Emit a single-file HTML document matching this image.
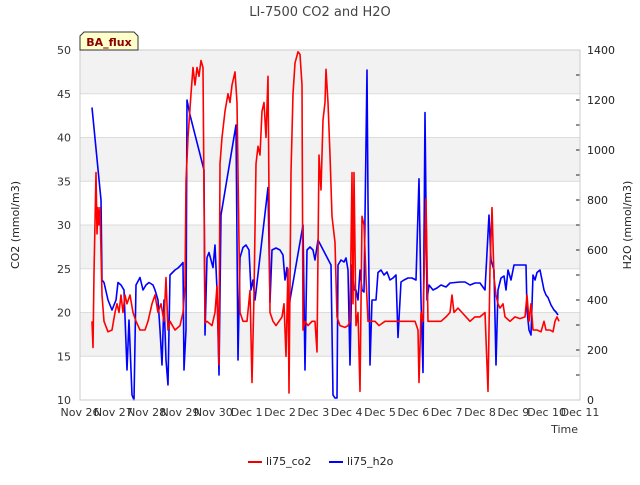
<!DOCTYPE html>
<html><head><meta charset="utf-8"><style>
body{margin:0;background:#fff;font-family:"Liberation Sans","DejaVu Sans",sans-serif;}
svg text{font-family:"DejaVu Sans","Liberation Sans",sans-serif;}
</style></head><body>
<svg id="chart" width="640" height="480" xmlns="http://www.w3.org/2000/svg">
<rect width="640" height="480" fill="#fff"/>
<g id="bands"></g><g id="grid"></g><g id="series"></g><g id="axes"></g>
<text x="320" y="16" text-anchor="middle" font-size="13" fill="#444">LI-7500 CO2 and H2O</text>
<text transform="translate(19,225) rotate(-90)" text-anchor="middle" font-size="11" fill="#222">CO2 (mmol/m3)</text>
<text transform="translate(631,225) rotate(-90)" text-anchor="middle" font-size="11" fill="#222">H2O (mmol/m3)</text>
<text x="578" y="433" text-anchor="end" font-size="11" fill="#333">Time</text>
<g>
<path d="M80,50 L80,36 L84,32 L134,32 L138,36 L138,50 Z" fill="#ffffcc" stroke="#333" stroke-width="1"/>
<text x="109" y="46" text-anchor="middle" font-size="11" font-weight="bold" fill="#8b0000">BA_flux</text></g>
<g>
<line x1="248" y1="462" x2="262" y2="462" stroke="#e00" stroke-width="2"/>
<text x="266" y="465" font-size="11" fill="#222">li75_co2</text>
<line x1="329" y1="462" x2="343" y2="462" stroke="#00f" stroke-width="2"/>
<text x="347" y="465" font-size="11" fill="#222">li75_h2o</text></g>
</svg>
<script>
const xTickLabels=["Nov 26","Nov 27","Nov 28","Nov 29","Nov 30","Dec 1","Dec 2","Dec 3","Dec 4","Dec 5","Dec 6","Dec 7","Dec 8","Dec 9","Dec 10","Dec 11"];
const leftTicks=[10,15,20,25,30,35,40,45,50];
const rightTicks=[0,200,400,600,800,1000,1200,1400];
const co2Days=[.36,.39,.42,.48,.51,.54,.57,.60,.66,.72,.84,.96,1.05,1.11,1.17,1.23,1.29,1.35,1.41,1.50,1.59,1.68,1.80,1.95,2.04,2.16,2.25,2.34,2.43,2.52,2.58,2.64,2.70,2.85,3.00,3.09,3.15,3.18,3.24,3.33,3.39,3.45,3.51,3.57,3.63,3.69,3.75,3.81,3.96,4.05,4.11,4.17,4.20,4.26,4.35,4.44,4.50,4.56,4.65,4.71,4.80,4.89,5.01,5.10,5.16,5.22,5.28,5.34,5.40,5.46,5.52,5.58,5.64,5.70,5.79,5.88,5.97,6.06,6.12,6.18,6.24,6.27,6.33,6.39,6.45,6.54,6.60,6.66,6.69,6.75,6.84,6.96,7.05,7.11,7.17,7.23,7.29,7.35,7.38,7.44,7.50,7.56,7.65,7.71,7.80,7.95,8.04,8.10,8.16,8.19,8.22,8.28,8.34,8.40,8.46,8.52,8.58,8.64,8.76,8.85,8.97,9.15,9.30,9.45,9.60,9.75,9.90,10.05,10.14,10.17,10.23,10.29,10.38,10.44,10.53,10.68,10.83,10.98,11.10,11.16,11.22,11.34,11.46,11.58,11.70,11.85,12.00,12.15,12.24,12.30,12.36,12.42,12.48,12.54,12.60,12.69,12.75,12.90,13.05,13.20,13.35,13.41,13.47,13.53,13.59,13.71,13.83,13.92,13.98,14.10,14.19,14.25,14.31,14.37];
const co2Values=[19,16,24.5,36,29,32,30,32,22,19,17.8,18,20,21,20,22,20,22,21,22,20,19,18,18,19,21,22,20,21,19,24,18,19,18,18.5,20,23,35,40,45,48,46,48,47,48.8,48,18.8,19,18.5,20,23,14,37,40,43,45,44,46,47.5,44,20,19,19,22.5,12,22,37,39,38,43,44,40,47,20,19,18.5,19,19.5,21,15,25,10.8,36,45,48.5,49.8,49.5,46,18,19,18.5,19,19,15.5,38,34,42,44,47.8,44,38,31,28,19.5,18.5,18.3,18.5,19,36,21,36,18.5,20,11,31,30,24,19,19,19,18.5,19,19,19,19,19,19,19,18,12,20,19,33,19,19,19,19,19.5,20,22,20,20.5,20,19.5,19,19.5,19.5,20,11,25,32,24,22,21,20.5,21,19.5,19,19.5,19.3,19.5,22,19,21,18,18,17.8,19,18,18,17.8,19,19.5,19];
const h2oDays=[.36,.63,.66,.72,.84,.96,1.08,1.14,1.23,1.32,1.41,1.47,1.56,1.62,1.68,1.80,1.89,1.98,2.07,2.19,2.25,2.34,2.40,2.46,2.52,2.58,2.64,2.70,2.85,2.94,3.03,3.09,3.12,3.18,3.21,3.30,3.72,3.75,3.81,3.87,3.93,3.99,4.05,4.11,4.17,4.23,4.68,4.74,4.80,4.89,4.98,5.07,5.13,5.19,5.25,5.64,5.70,5.76,5.88,6.00,6.09,6.15,6.21,6.27,6.30,6.69,6.75,6.81,6.90,6.99,7.05,7.14,7.53,7.59,7.65,7.71,7.74,7.83,7.92,7.98,8.04,8.10,8.16,8.22,8.28,8.34,8.40,8.46,8.52,8.61,8.64,8.70,8.76,8.82,8.88,8.94,9.03,9.12,9.21,9.30,9.39,9.48,9.54,9.63,9.72,9.84,9.96,10.08,10.17,10.23,10.29,10.35,10.41,10.47,10.59,10.71,10.83,10.98,11.10,11.25,11.40,11.55,11.70,11.85,12.00,12.15,12.27,12.33,12.42,12.48,12.54,12.63,12.72,12.78,12.84,12.93,12.99,13.02,13.14,13.26,13.38,13.41,13.47,13.53,13.59,13.65,13.71,13.80,13.89,13.92,13.98,14.04,14.13,14.22,14.28,14.34];
const h2oValues=[1170,800,480,470,400,360,400,470,460,440,120,320,20,0,460,490,440,460,470,460,440,400,280,140,400,160,60,500,520,528,540,550,120,280,1200,1140,920,260,570,590,560,530,620,440,100,740,1100,160,570,610,620,600,440,480,400,850,390,600,608,600,580,480,530,360,400,700,120,600,612,600,560,640,540,20,8,8,540,560,552,568,520,140,540,440,440,400,520,440,432,1320,800,140,400,400,400,510,520,500,512,480,488,500,250,472,480,488,488,480,885,400,110,1150,400,460,440,448,460,452,468,470,472,472,460,468,468,440,740,560,520,140,440,488,496,440,520,480,520,540,540,540,540,360,280,260,500,480,510,520,460,440,420,410,380,360,352,340];
const L=80,R=580,T=50,B=400,NS="http://www.w3.org/2000/svg";
const xS=d=>L+d*(R-L)/15, yL=v=>B-(v-10)*(B-T)/40, yR=v=>B-v*(B-T)/1400;
function mk(tag,at,parent){const e=document.createElementNS(NS,tag);for(const k in at)e.setAttribute(k,at[k]);document.getElementById(parent).appendChild(e);return e;}
for(let v=15;v<50;v+=10){const r=mk('rect',{x:L,y:yL(v+5),width:R-L,height:yL(v)-yL(v+5),fill:'#f2f2f2'},'bands');

}
leftTicks.forEach(v=>{const g=mk('line',{x1:L,x2:R,y1:yL(v),y2:yL(v),stroke:'#dcdcdc','stroke-width':1},'grid');


const t=mk('text',{x:L-9,y:yL(v)+4,'text-anchor':'end','font-size':11,fill:'#333'},'axes');t.textContent=v;

});
rightTicks.forEach(v=>{const t=mk('text',{x:R+7,y:yR(v)+4,'font-size':11,fill:'#222'},'axes');t.textContent=v;


mk('line',{x1:R,x2:R-4,y1:yR(v),y2:yR(v),stroke:'#222'},'axes');
if(v<1400)mk('line',{x1:R,x2:R-4,y1:yR(v+100),y2:yR(v+100),stroke:'#222'},'axes');});
xTickLabels.forEach((s,i)=>{const t=mk('text',{x:xS(i),y:416,'text-anchor':'middle','font-size':11,fill:'#333'},'axes');t.textContent=s;

});
mk('rect',{x:L,y:T,width:R-L,height:B-T,fill:'none',stroke:'#ccc'},'axes');
function line(days,vals,ys,color,name){const p=mk('polyline',{points:days.map((d,i)=>xS(d).toFixed(1)+','+ys(vals[i]).toFixed(1)).join(' '),fill:'none',stroke:color,'stroke-width':1.6,'stroke-linejoin':'round'},'series');

}
line(h2oDays,h2oValues,yR,'#0000ff','h2o-line');
line(co2Days,co2Values,yL,'#ff0000','co2-line');
</script>
</body></html>
